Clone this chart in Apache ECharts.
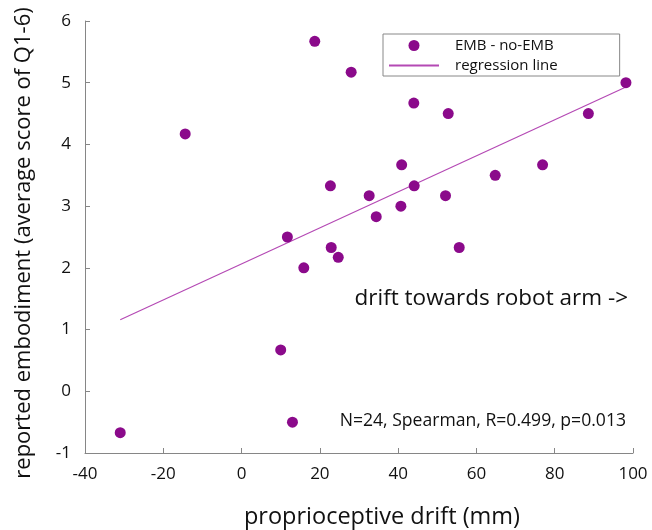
<!DOCTYPE html>
<html>
<head>
<meta charset="utf-8">
<script src="https://cdn.jsdelivr.net/npm/echarts@6/dist/echarts.min.js"></script>
<style>
    html, body { margin: 0; padding: 0; background: #fff; }
    #main { width: 652px; height: 530px; }
</style>
</head>
<body>
<div id="main"></div>
<script>
    // drift (mm) vs. embodiment score difference, one point per participant
    var driftMm = [18.7, -14.4, 11.7, 28.0, 44.0, 52.8, 98.2, 88.6, 40.9, 76.9, 64.8, 22.7,
        44.1, 32.6, 52.1, 34.4, 40.7, 22.9, 55.6, 24.7, 15.9, 10.0, 13.0, -31.0];
    var embScore = [5.67, 4.17, 2.5, 5.17, 4.67, 4.5, 5.0, 4.5, 3.67, 3.67, 3.5, 3.33,
        3.33, 3.17, 3.17, 2.83, 3.0, 2.33, 2.33, 2.17, 2.0, 0.67, -0.5, -0.67];
    // regression line end points
    var regX = [-31.0, 98.2];
    var regY = [1.16, 4.93];

    var xTicks = [-40, 100, 20];
    var yTicks = [-1, 6, 1];

    var font = 'Open Sans';
    var dotColor = '#8b0a8b';
    var lineColor = '#b449b4';
    var axisColor = '#868686';

    var chart = echarts.init(document.getElementById('main'));

    var points = [];
    for (var i = 0; i < driftMm.length; i++) {
        points.push([driftMm[i], embScore[i]]);
    }
    var regLine = [];
    for (var j = 0; j < regX.length; j++) {
        regLine.push([regX[j], regY[j]]);
    }

    var option = {
        backgroundColor: '#fff',
        animation: false,
        textStyle: { fontFamily: font },
        grid: { left: 85, right: 19, top: 21, bottom: 77, outerBoundsMode: 'none' },
        legend: {
            left: 383,
            top: 34,
            orient: 'vertical',
            borderColor: '#888',
            borderWidth: 1,
            borderRadius: 0,
            padding: [4, 62, 3, 5],
            itemWidth: 50,
            itemHeight: 11,
            itemGap: 5,
            textStyle: { fontFamily: font, fontSize: 15, color: '#111', padding: [0, 0, 0, 11] },
            data: [
                { name: 'EMB - no-EMB', icon: 'circle' },
                { name: 'regression line', itemStyle: { opacity: 0 } }
            ]
        },
        xAxis: {
            type: 'value',
            min: xTicks[0],
            max: xTicks[1],
            interval: xTicks[2],
            name: 'proprioceptive drift (mm)',
            nameLocation: 'middle',
            nameGap: 52,
            nameTextStyle: { fontFamily: font, fontSize: 23.5, color: '#111', padding: [0, 0, 0, 46] },
            axisLine: { onZero: false, lineStyle: { color: axisColor, width: 1 } },
            axisTick: { inside: true, length: 5, lineStyle: { color: axisColor } },
            axisLabel: { fontFamily: font, fontSize: 17, color: '#111', margin: 13 },
            splitLine: { show: false }
        },
        yAxis: {
            type: 'value',
            min: yTicks[0],
            max: yTicks[1],
            interval: yTicks[2],
            name: 'reported embodiment (average score of Q1-6)',
            nameLocation: 'middle',
            nameGap: 50,
            nameTextStyle: { fontFamily: font, fontSize: 22, color: '#111', padding: [0, 12, 0, 0] },
            axisLine: { show: true, onZero: false, lineStyle: { color: axisColor, width: 1 } },
            axisTick: { show: true, inside: true, length: 5, lineStyle: { color: axisColor } },
            axisLabel: { fontFamily: font, fontSize: 17, color: '#111', margin: 14 },
            splitLine: { show: false }
        },
        graphic: [
            {
                type: 'text',
                right: 24,
                top: 287,
                style: { text: 'drift towards robot arm ->', font: '22.5px "Open Sans"', fill: '#111' }
            },
            {
                type: 'text',
                right: 26,
                top: 412,
                style: { text: 'N=24, Spearman, R=0.499, p=0.013', font: '17.6px "Open Sans"', fill: '#111' }
            }
        ],
        series: [
            {
                name: 'regression line',
                type: 'line',
                data: regLine,
                showSymbol: false,
                symbol: 'none',
                lineStyle: { color: lineColor, width: 1.2 },
                itemStyle: { color: lineColor },
                z: 1
            },
            {
                name: 'EMB - no-EMB',
                type: 'scatter',
                data: points,
                symbol: 'circle',
                symbolSize: 11,
                itemStyle: { color: dotColor, opacity: 1 },
                z: 2
            }
        ]
    };

    chart.setOption(option);
    window.addEventListener('resize', chart.resize);
</script>
</body>
</html>
